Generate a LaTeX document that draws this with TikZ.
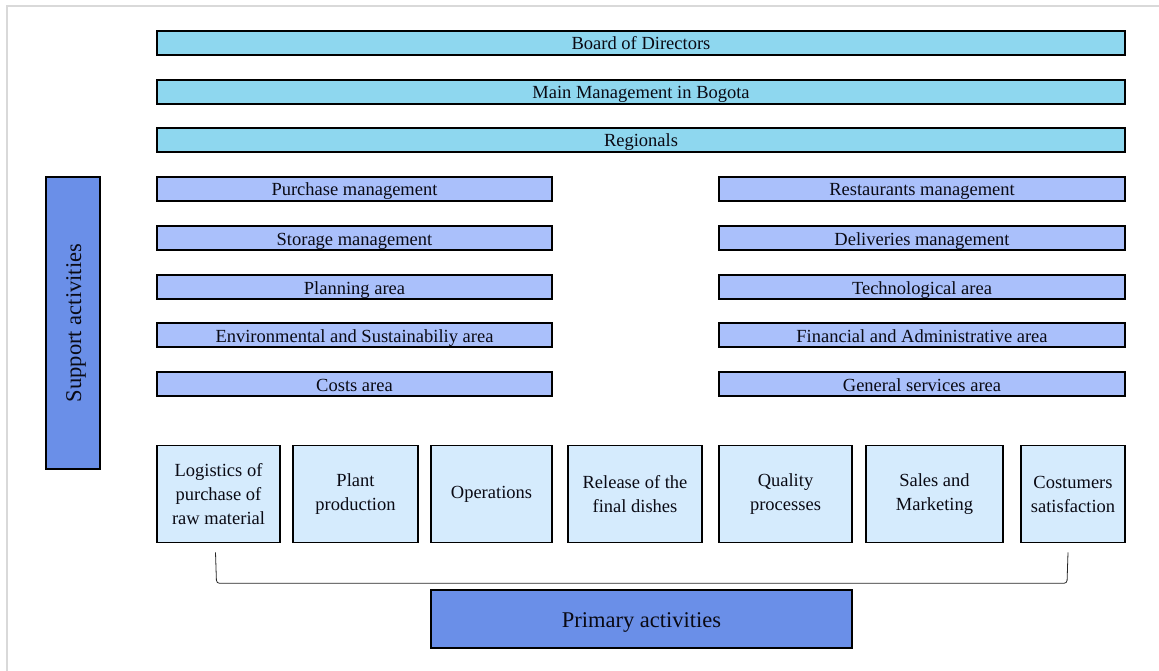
\documentclass[tikz,border=0pt]{standalone}
\usepackage{fontspec}
\setmainfont{Liberation Serif}
\usepackage{tikz}
\usetikzlibrary{positioning, calc}
\definecolor{topblue}{RGB}{142,215,239}
\definecolor{midblue}{RGB}{170,192,251}
\definecolor{paleblue}{RGB}{213,235,253}
\definecolor{deepblue}{RGB}{106,143,232}
\definecolor{mydark}{RGB}{10,10,20}
\definecolor{mgframe}{RGB}{217,217,217}
\tikzset{
  topbar/.style={rectangle,draw=black,fill=topblue,line width=1.6pt,inner sep=0pt,
    minimum width=968pt,minimum height=24pt,text height=15pt,text depth=2pt,
    font=\fontsize{18.5}{22}\selectfont,text=mydark},
  midbar/.style={rectangle,draw=black,fill=midblue,line width=1.6pt,inner sep=0pt,
    minimum height=24pt,text height=16pt,text depth=2pt,
    font=\fontsize{18.5}{22}\selectfont,text=mydark},
  primbox/.style={rectangle,draw=black,fill=paleblue,line width=1.6pt,inner sep=0pt,
    minimum height=97pt,align=center,font=\fontsize{18.5}{24}\selectfont,text=mydark},
  labelbox/.style={rectangle,draw=black,fill=deepblue,line width=1.6pt,inner sep=0pt,
    text height=18pt,text depth=2pt,font=\fontsize{22.5}{26}\selectfont,text=mydark},
  bracket/.style={line width=0.8pt,color=black!85,rounded corners=3pt}
}
\begin{document}
\begin{tikzpicture}[x=1pt,y=-1pt]
  \useasboundingbox (0,0) rectangle (1159,671);
  % Frame
  \draw[line width=1.2pt, color=mgframe] (7,680) -- (7,6) -- (1170,6);

  % Top levels
  \node[topbar] (board) at (641,43) {Board of Directors};
  \node[topbar] (main) at (641,92) {Main Management in Bogota};
  \node[topbar] (reg) at (641,140) {Regionals};

  % Support areas (left)
  \node[midbar, minimum width=395pt] (purch) at (354.5,189) {Purchase management};
  \node[midbar, minimum width=395pt] (stor) at (354.5,238) {Storage management};
  \node[midbar, minimum width=395pt] (plan) at (354.5,287) {Planning area};
  \node[midbar, minimum width=395pt] (envi) at (354.5,335) {Environmental and Sustainabiliy area};
  \node[midbar, minimum width=395pt] (costs) at (354.5,384) {Costs area};

  % Support areas (right)
  \node[midbar, minimum width=406pt] (rest) at (922,189) {Restaurants management};
  \node[midbar, minimum width=406pt] (deli) at (922,238) {Deliveries management};
  \node[midbar, minimum width=406pt] (tech) at (922,287) {Technological area};
  \node[midbar, minimum width=406pt] (fina) at (922,335) {Financial and Administrative area};
  \node[midbar, minimum width=406pt] (gene) at (922,384) {General services area};

  % Support label
  \node[labelbox, minimum width=292pt, minimum height=54pt, rotate=90] (supp) at (73,323) {Support activities};

  % Primary activities
  \node[primbox, minimum width=123pt] (logi) at (218.5,494) {Logistics of\\purchase of\\raw material};
  \node[primbox, minimum width=125pt] (plant) at (355.5,494) {Plant\\production};
  \node[primbox, minimum width=121pt] (oper) at (491.5,494) {Operations};
  \node[primbox, minimum width=134pt] (rele) at (635,494) {Release of the\\final dishes};
  \node[primbox, minimum width=133pt] (qual) at (785.5,494) {Quality\\processes};
  \node[primbox, minimum width=137pt] (sale) at (934.5,494) {Sales and\\Marketing};
  \node[primbox, minimum width=104pt] (cost) at (1073,494) {Costumers\\satisfaction};

  % Bracket
  \draw[bracket] ([shift={(-3,9)}]logi.south) -- ([shift={(-2,40)}]logi.south)
    -- ([shift={(-6,40)}]cost.south) -- ([shift={(-5,9)}]cost.south);

  \node[labelbox, minimum width=421pt, minimum height=58pt] (prim) at (641.5,619) {Primary activities};
\end{tikzpicture}
\end{document}
